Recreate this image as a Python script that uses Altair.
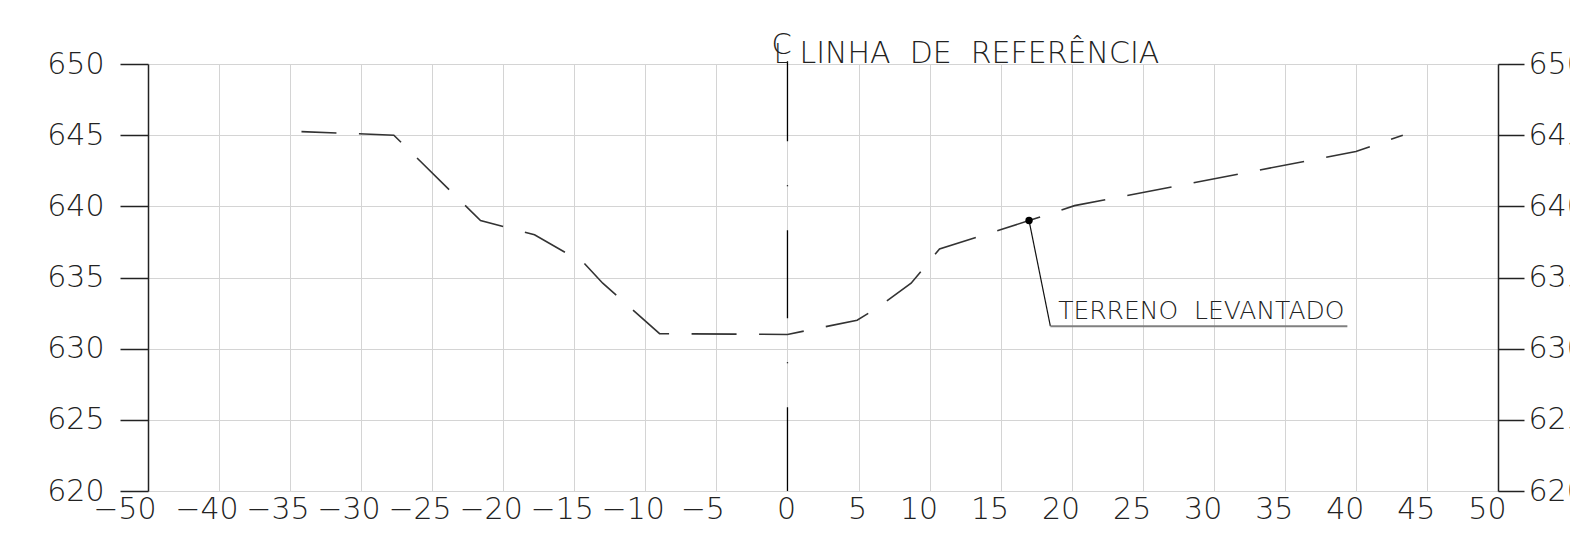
import altair as alt
import pandas as pd

# ---- data ----
terrain_x = [-34.2, -27.7, -21.6, -17.8, -14.3, -13.0, -9.0, 0.0, 4.9, 6.3, 8.7, 10.7, 17.0, 20.2, 40.0, 43.3]
terrain_y = [645.25, 645.0, 639.0, 638.0, 636.0, 634.6, 631.05, 631.0, 632.0, 632.85, 634.6, 637.0, 639.0, 640.05, 643.85, 645.0]

x_tick_values = [-45, -40, -35, -30, -25, -20, -15, -10, -5, 0, 5, 10, 15, 20, 25, 30, 35, 40, 45, 50]
x_tick_labels = ["−50", "−40", "−35", "−30", "−25", "−20", "−15", "−10", "−5", "0",
                 "5", "10", "15", "20", "25", "30", "35", "40", "45", "50"]
y_tick_values = [620, 625, 630, 635, 640, 645, 650]

x_domain = [-45, 50]
y_domain = [620, 650]

centerline_x = [0]
centerline_top = [650.2]
centerline_bottom = [620]

symbol_c = ["C"]
symbol_l = ["L"]
title_text = ["LINHA\u00a0 DE\u00a0 REFERÊNCIA"]
title_x = [0]
title_y = [650.05]

survey_x = [17.0]
survey_y = [639.0]
leader_end_x = [18.5]
leader_end_y = [631.58]
underline_end_x = [39.4]
label_text = ["TERRENO\u00a0 LEVANTADO"]
label_x = [19.05]
label_y = [632.1]

FONT = "DejaVu Sans"
WEIGHT = 200
INK = "#222222"

# label expression built from the tick lists
label_expr = "''"
for v, lab in reversed(list(zip(x_tick_values, x_tick_labels))):
    label_expr = f"datum.value == {v} ? '{lab}' : ({label_expr})"

terrain = pd.DataFrame({"x": terrain_x, "y": terrain_y})
xs = alt.Scale(domain=x_domain, nice=False, zero=False)
ys = alt.Scale(domain=y_domain, nice=False, zero=False)

x_axis = alt.Axis(
    values=x_tick_values, labelExpr=label_expr, grid=True, gridColor="#d4d4d4", gridWidth=1,
    ticks=False, domain=False, labelFont=FONT, labelFontWeight=WEIGHT, labelFontSize=30,
    labelColor=INK, labelPadding=3, labelAlign="right", labelBaseline="top",
    labelOffset={"condition": {"test": "datum.value <= -10 && datum.value >= -40", "value": 19}, "value": 8},
    labelOverlap=False, labelFlush=False, title=None,
)
y_axis_left = alt.Axis(
    values=y_tick_values, orient="left", grid=True, gridColor="#d4d4d4", gridWidth=1,
    domain=True, domainColor=INK, domainWidth=1.5, ticks=True, tickSize=28, tickColor=INK,
    tickWidth=1.5, labelFont=FONT, labelFontWeight=WEIGHT, labelFontSize=30, labelColor=INK,
    labelPadding=16, labelOverlap=False, labelFlush=False, title=None,
)
y_axis_right = alt.Axis(
    values=y_tick_values, orient="right", grid=False,
    domain=True, domainColor=INK, domainWidth=1.5, ticks=True, tickSize=26, tickColor=INK,
    tickWidth=1.5, labelFont=FONT, labelFontWeight=WEIGHT, labelFontSize=30, labelColor=INK,
    labelPadding=4, labelOverlap=False, labelFlush=False, title=None,
)

XP = alt.X("x:Q", scale=xs, title=None)

line = alt.Chart(terrain).mark_line(
    color="#333333", strokeWidth=1.6, strokeDash=[45, 22.5], strokeDashOffset=10
).encode(
    x=alt.X("x:Q", scale=xs, axis=x_axis),
    y=alt.Y("y:Q", scale=ys, axis=y_axis_left),
)

center_df = pd.DataFrame({"x": centerline_x, "y": centerline_top, "y2": centerline_bottom})
centerline = alt.Chart(center_df).mark_rule(
    color="#000000", strokeWidth=1.3, strokeDash=[88, 44, 1, 44], strokeDashOffset=8
).encode(
    x=XP,
    y=alt.Y("y:Q", scale=ys, axis=y_axis_right),
    y2="y2:Q",
)

title_df = pd.DataFrame({"x": title_x, "y": title_y, "c": symbol_c, "l": symbol_l, "t": title_text})
sym_c = alt.Chart(title_df).mark_text(
    align="left", baseline="alphabetic", dx=-16, dy=-9, font=FONT, fontWeight=WEIGHT,
    fontSize=29, color=INK
).encode(x=XP, y=alt.Y("y:Q", scale=ys, axis=None), text="c:N")
sym_l = alt.Chart(title_df).mark_text(
    align="left", baseline="alphabetic", dx=-13.5, font=FONT, fontWeight=WEIGHT,
    fontSize=26, color=INK
).encode(x=XP, y=alt.Y("y:Q", scale=ys, axis=None), text="l:N")
title = alt.Chart(title_df).mark_text(
    align="left", baseline="alphabetic", dx=12, font=FONT, fontWeight=WEIGHT,
    fontSize=30, color=INK
).encode(x=XP, y=alt.Y("y:Q", scale=ys, axis=None), text="t:N")

leader_df = pd.DataFrame({"x": survey_x, "y": survey_y, "x2": leader_end_x, "y2": leader_end_y})
leader = alt.Chart(leader_df).mark_rule(color="#111111", strokeWidth=1.2).encode(
    x=XP, y=alt.Y("y:Q", scale=ys, axis=None), x2="x2:Q", y2="y2:Q",
)

under_df = pd.DataFrame({"x": leader_end_x, "x2": underline_end_x, "y": leader_end_y})
underline = alt.Chart(under_df).mark_rule(color="#808080", strokeWidth=2).encode(
    x=XP, x2="x2:Q", y=alt.Y("y:Q", scale=ys, axis=None),
)

dot_df = pd.DataFrame({"x": survey_x, "y": survey_y})
dot = alt.Chart(dot_df).mark_point(filled=True, color="#000000", size=55, opacity=1).encode(
    x=XP, y=alt.Y("y:Q", scale=ys, axis=None),
)

lab_df = pd.DataFrame({"x": label_x, "y": label_y, "t": label_text})
label = alt.Chart(lab_df).mark_text(
    align="left", baseline="alphabetic", font=FONT, fontWeight=WEIGHT, fontSize=25, color=INK
).encode(x=XP, y=alt.Y("y:Q", scale=ys, axis=None), text="t:N")

chart = alt.layer(line, centerline, sym_c, sym_l, title, leader, underline, dot, label).resolve_scale(
    y="shared", x="shared"
).resolve_axis(y="independent").properties(
    width=1350, height=427,
    autosize=alt.AutoSizeParams(type="none"),
    padding={"left": 140, "top": 56, "right": 72, "bottom": 40},
).configure_view(stroke=None).configure(background="white")

chart.save("out.html", embed_options={"renderer": "svg", "actions": False})
